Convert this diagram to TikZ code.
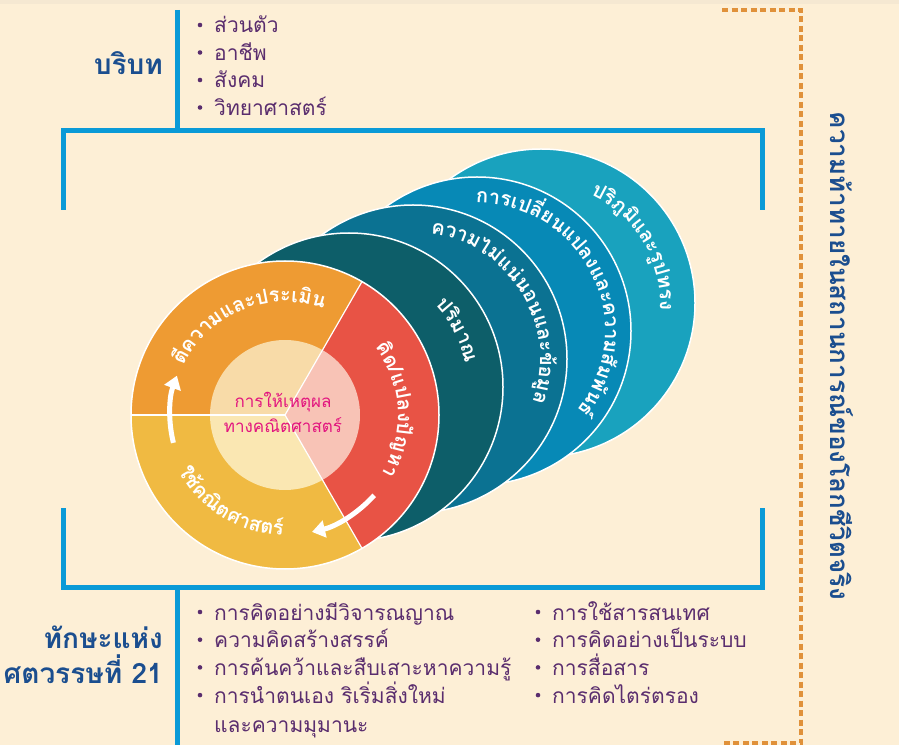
\documentclass[tikz,border=0pt]{standalone}
\usepackage{fontspec}
\setmainfont[Script=Thai]{Loma}
\usetikzlibrary{decorations.text,arrows.meta}

\definecolor{bgcream}{HTML}{FDEFD6}
\definecolor{topstrip}{HTML}{F5E8D2}
\definecolor{lineblue}{HTML}{0A9AD7}
\definecolor{dashorange}{HTML}{E0913A}
\definecolor{titleblue}{HTML}{1B4E8F}
\definecolor{listpurple}{HTML}{5A2D6E}
\definecolor{hubmagenta}{HTML}{E2157F}
\definecolor{ringorange}{HTML}{EE9B33}
\definecolor{ringyellow}{HTML}{F0BA42}
\definecolor{ringred}{HTML}{E85345}
\definecolor{coreorange}{HTML}{F8DBA8}
\definecolor{coreyellow}{HTML}{FAE7B2}
\definecolor{corered}{HTML}{F8C3B6}
\definecolor{tealA}{HTML}{19A2BE}
\definecolor{tealB}{HTML}{0789B6}
\definecolor{tealC}{HTML}{0B7292}
\definecolor{tealD}{HTML}{0D5E69}

\newcommand\listfont{\fontsize{21}{27}\selectfont}
\newcommand\titlefont{\fontsize{28}{35}\selectfont\bfseries}
\newcommand\sidefont{\fontsize{26}{30}\selectfont\bfseries}
\newcommand\ringfont{\fontsize{20}{24}\selectfont\bfseries}
\newcommand\tealfont{\fontsize{20}{24}\selectfont\bfseries}
\newcommand\hubfont{\fontsize{17}{25}\selectfont}

\tikzset{
  bluerule/.style={lineblue, line width=5pt},
  dashrule/.style={dashorange, line width=4pt, dash pattern=on 6pt off 3.5pt},
  listtext/.style={text=listpurple, anchor=base west, inner sep=0pt, font=\listfont},
  titletext/.style={text=titleblue, anchor=base east, inner sep=0pt, font=\titlefont},
  turnarrow/.style={white, line width=5pt, -{Triangle[width=17pt,length=13pt]}},
}

\begin{document}
\begin{tikzpicture}[x=1pt,y=1pt]
\useasboundingbox (0,0) rectangle (899,745);
\fill[bgcream] (0,0) rectangle (899,745);
\fill[topstrip] (0,741) rectangle (899,745);

% brackets
\draw[bluerule] (63,535) -- (63,614) -- (762,614) -- (762,535);
\draw[bluerule] (177,735) -- (177,614);
\draw[bluerule] (63,237) -- (63,158) -- (762,158) -- (762,237);
\draw[bluerule] (177,158) -- (177,0);
\draw[dashrule] (722,735) -- (801,735) -- (801,2) -- (722,2);

% context
\node[titletext] (context) at (163,670) {บริบท};
\foreach \t [count=\i] in {ส่วนตัว,อาชีพ,สังคม,วิทยาศาสตร์} {
  \node[listtext] (ctx\i) at (214,{712-27.5*(\i-1)}) {\t};
  \fill[listpurple] (200,{720-27.5*(\i-1)}) circle (2.3);
}

% skills
\node[titletext] (skillA) at (163,97) {ทักษะแห่ง};
\node[titletext] (skillB) at (163,62) {ศตวรรษที่ 21};
\foreach \t [count=\i] in {การคิดอย่างมีวิจารณญาณ,ความคิดสร้างสรรค์,การค้นคว้าและสืบเสาะหาความรู้,การนำตนเอง ริเริ่มสิ่งใหม่} {
  \node[listtext] (skl\i) at (214,{125-27.7*(\i-1)}) {\t};
  \fill[listpurple] (200,{133-27.7*(\i-1)}) circle (2.3);
}
\node[listtext] (skl5) at (214,13) {และความมุมานะ};
\foreach \t [count=\i] in {การใช้สารสนเทศ,การคิดอย่างเป็นระบบ,การสื่อสาร,การคิดไตร่ตรอง} {
  \node[listtext] (skr\i) at (552,{125-27.7*(\i-1)}) {\t};
  \fill[listpurple] (538,{133-27.7*(\i-1)}) circle (2.3);
}

\node[rotate=-90, text=titleblue, font=\sidefont] (challenge) at (842,389)
  {ความท้าทายในสถานการณ์ของโลกชีวิตจริง};

% content rings
\foreach \i/\col in {4/tealA,3/tealB,2/tealC,1/tealD} {
  \filldraw[fill=\col, draw=white, line width=1.5pt] ({285+64*\i},{330+28*\i}) circle (154);
}
\coordinate (hub) at (285,330);
\fill[ringorange] (hub) -- ++(60:154) arc[start angle=60,end angle=180,radius=154] -- cycle;
\fill[ringyellow] (hub) -- ++(180:154) arc[start angle=180,end angle=300,radius=154] -- cycle;
\fill[ringred] (hub) -- ++(-60:154) arc[start angle=-60,end angle=60,radius=154] -- cycle;
\fill[coreorange] (hub) -- ++(60:75) arc[start angle=60,end angle=180,radius=75] -- cycle;
\fill[coreyellow] (hub) -- ++(180:75) arc[start angle=180,end angle=300,radius=75] -- cycle;
\fill[corered] (hub) -- ++(-60:75) arc[start angle=-60,end angle=60,radius=75] -- cycle;
\foreach \a in {60,180,300}
  \draw[white, line width=1.2pt] (hub) -- ++(\a:154);
\draw[white, line width=1.5pt] (hub) circle (154);

% ring labels
\path[decorate, decoration={text along path, text align=center, text color=white,
  text={|\tealfont|ป{ริ}{ภู}{มิ}และ{รู}ปทรง}}]
  (541,442) ++(121:119) arc[start angle=121, end angle=-59, radius=119];
\path[decorate, decoration={text along path, text align=center, text color=white,
  text={|\tealfont|การเป{ลี่}ยนแปลงและความ{สั}ม{พั}น{ธ์}}}]
  (477,414) ++(116:128) arc[start angle=116, end angle=-64, radius=128];
\path[decorate, decoration={text along path, text align=center, text color=white,
  text={|\tealfont|ความไ{ม่}แ{น่}นอนและ{ข้}อ{มู}ล}}]
  (413,386) ++(121:127) arc[start angle=121, end angle=-59, radius=127];
\path[decorate, decoration={text along path, text align=center, text color=white,
  text={|\tealfont|ป{ริ}มาณ}}]
  (349,358) ++(107.5:119) arc[start angle=107.5, end angle=-52.5, radius=119];
\path[decorate, decoration={text along path, text align=center, text color=white,
  text={|\ringfont|{ตี}ความและประเ{มิ}น}}]
  (hub) ++(182:113) arc[start angle=182, end angle=42, radius=113];
\path[decorate, decoration={text along path, text align=center, text color=white,
  text={|\ringfont|{คิ}ด/แปลง{ปั}ญหา}}]
  (hub) ++(73:113) arc[start angle=73, end angle=-67, radius=113];
\path[decorate, decoration={text along path, text align=center, text color=white,
  text={|\ringfont|ใ{ช้}ค{ณิ}ตศาสต{ร์}}}]
  (hub) ++(168.5:120) arc[start angle=168.5, end angle=308.5, radius=120];

\draw[turnarrow] (hub) ++(194:115) arc[start angle=194, end angle=160, radius=115];
\draw[turnarrow] (hub) ++(-42:120) arc[start angle=-42, end angle=-77, radius=120];

\node[text=hubmagenta, font=\hubfont, align=center] (reasoning) at (283,333)
  {การให้เหตุผล\\ทางคณิตศาสตร์};
\end{tikzpicture}
\end{document}
